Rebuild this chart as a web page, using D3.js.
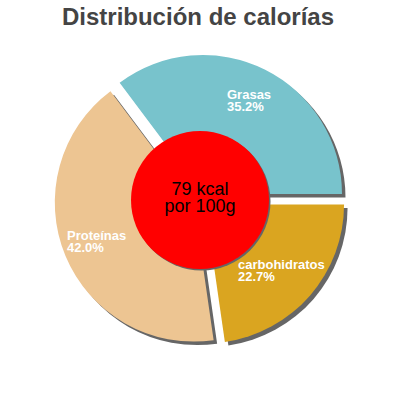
<!DOCTYPE html>
<html>
<head>
<meta charset="utf-8">
<script src="https://cdn.jsdelivr.net/npm/d3@7"></script>
<style>
  body { margin: 0; background: #fff; }
  svg text { font-family: "Liberation Sans", Arial, sans-serif; }
</style>
</head>
<body>
<div id="chart"></div>
<script>
// data
var categories = ["Grasas", "carbohidratos", "Proteínas"];
var percents = [35.2, 22.7, 42.0];
var colors = ["#78c3cc", "#daa520", "#edc592"];
var centerLines = ["79 kcal", "por 100g"];
var title = "Distribución de calorías";

var w = 400, h = 400;
var cx = 200, cy = 200;
var radius = 139;
var explode = 6.7;
var shadowDx = 3.5, shadowDy = 3.5;

// label anchor points (left edge of first line baseline)
var labelPos = [[227, 99], [238, 269], [67, 240]];

var svg = d3.select('#chart').append('svg')
    .attr('width', w)
    .attr('height', h);

svg.append('text')
    .attr('x', 198).attr('y', 25)
    .attr('text-anchor', 'middle')
    .style('font-size', '24px')
    .style('font-weight', 'bold')
    .style('fill', '#444')
    .text(title);

var data = categories.map((c, i) => ({ name: c, value: percents[i], color: colors[i] }));

// first slice ends at 3 o'clock
var startAngle = Math.PI / 2 - 2 * Math.PI * percents[0] / d3.sum(percents);
var pie = d3.pie().sort(null).value(d => d.value)
    .startAngle(startAngle).endAngle(startAngle + 2 * Math.PI);
var arcs = pie(data);

var arc = d3.arc().innerRadius(0).outerRadius(radius);

function offset(d) {
    var mid = (d.startAngle + d.endAngle) / 2;
    return [Math.sin(mid) * explode, -Math.cos(mid) * explode];
}

var g = svg.append('g').attr('transform', `translate(${cx},${cy})`);

// shadows
g.selectAll('.shadow').data(arcs).enter().append('path')
    .attr('class', 'shadow')
    .attr('d', arc)
    .attr('fill', '#666')
    .attr('transform', d => {
        var o = offset(d);
        return `translate(${o[0] + shadowDx},${o[1] + shadowDy})`;
    });

g.selectAll('.slice').data(arcs).enter().append('path')
    .attr('class', 'slice')
    .attr('d', arc)
    .attr('fill', d => d.data.color)
    .attr('transform', d => {
        var o = offset(d);
        return `translate(${o[0]},${o[1]})`;
    });

// labels
arcs.forEach((d, i) => {
    var t = svg.append('text')
        .attr('x', labelPos[i][0]).attr('y', labelPos[i][1])
        .style('font-size', '13px')
        .style('font-weight', 'bold')
        .style('fill', '#fff');
    t.append('tspan').attr('x', labelPos[i][0]).text(d.data.name);
    t.append('tspan').attr('x', labelPos[i][0]).attr('dy', 12).text(d.data.value.toFixed(1) + '%');
});

// center circle
g.append('circle').attr('r', 69).attr('cx', 1.5).attr('cy', 1.5).attr('fill', '#666');
g.append('circle').attr('r', 69).attr('fill', '#ff0000');

g.append('text')
    .attr('text-anchor', 'middle')
    .style('font-size', '18px')
    .style('fill', '#000')
    .selectAll('tspan').data(centerLines).enter().append('tspan')
    .attr('x', 0)
    .attr('y', (d, i) => -5 + i * 17)
    .text(d => d);
</script>
</body>
</html>
